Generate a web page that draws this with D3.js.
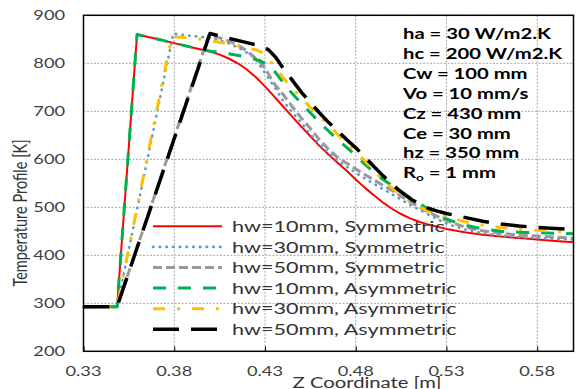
<!DOCTYPE html>
<html><head><meta charset="utf-8">
<script src="https://cdn.jsdelivr.net/npm/d3@7"></script>
<style>body{margin:0;background:#fff;} svg{display:block;}</style>
</head><body>
<svg id="c" width="576" height="389"></svg>
<script>
// ---------- data ----------
const xTicks = [0.33, 0.38, 0.43, 0.48, 0.53, 0.58];
const yTicks = [200, 300, 400, 500, 600, 700, 800, 900];

const zRed = [0.33,0.3485,0.3595,0.37,0.38,0.39,0.40,0.405,0.41,0.415,0.42,0.425,0.43,0.435,0.44,0.445,0.45,0.455,0.46,0.465,0.47,0.475,0.48,0.485,0.49,0.495,0.50,0.505,0.51,0.515,0.52,0.53,0.54,0.55,0.56,0.57,0.58,0.59,0.60];
const tRed = [293,293,860,851,842,833,824,818,810,800,787,771,752,731,710,689,668,648,628,610,593,576,558,541,525,510,497,486,477,470,464,455,448,443,439,436,433,430,427];

const zBlue = [0.33,0.3485,0.3795,0.387,0.395,0.402,0.409,0.416,0.422,0.425,0.43,0.435,0.44,0.445,0.45,0.455,0.46,0.465,0.47,0.48,0.49,0.50,0.51,0.52,0.53,0.54,0.55,0.56,0.57,0.58,0.59,0.60];
const tBlue = [293,293,862,858,855,851,843,831,818,808,780,752,722,698,676,652,632,613,597,572,549,527,505,485,466,454,446,441,438,436,434,433];

const zGray = [0.33,0.3485,0.399,0.405,0.41,0.415,0.42,0.425,0.43,0.435,0.44,0.445,0.45,0.455,0.46,0.465,0.47,0.48,0.49,0.50,0.51,0.52,0.53,0.54,0.55,0.56,0.57,0.58,0.59,0.60];
const tGray = [293,293,858,853,846,838,826,810,790,758,735,710,686,664,641,621,604,580,557,535,511,490,472,459,451,446,442,440,438,436];

const zGreen = [0.33,0.3485,0.3595,0.37,0.38,0.39,0.40,0.41,0.42,0.427,0.432,0.436,0.44,0.445,0.45,0.455,0.46,0.465,0.47,0.475,0.48,0.485,0.49,0.495,0.50,0.505,0.51,0.515,0.52,0.525,0.53,0.535,0.54,0.55,0.56,0.57,0.58,0.59,0.60];
const tGreen = [293,293,860,851,842,833,825,820,813,806,795,780,760,737,717,697,677,659,641,625,608,590,573,558,545,533,520,508,496,485,476,469,463,455,450,448,447,446,445];

const zOrange = [0.33,0.3485,0.3786,0.385,0.395,0.405,0.415,0.425,0.43,0.435,0.44,0.445,0.45,0.455,0.46,0.465,0.47,0.475,0.48,0.485,0.49,0.495,0.50,0.505,0.51,0.515,0.52,0.525,0.53,0.54,0.55,0.56,0.57,0.58,0.59,0.60];
const tOrange = [293,293,856,854,850,844,836,828,820,795,770,748,728,708,690,672,652,634,616,597,576,557,540,525,512,501,492,485,481,470,463,458,454,452,450,449];

const zBlack = [0.33,0.3485,0.3997,0.404,0.41,0.42,0.428,0.432,0.436,0.44,0.445,0.45,0.455,0.46,0.465,0.47,0.475,0.48,0.485,0.49,0.495,0.50,0.505,0.51,0.515,0.52,0.525,0.53,0.54,0.55,0.56,0.57,0.58,0.59,0.60];
const tBlack = [293,293,862,858,852,843,836,828,812,790,765,740,718,697,677,659,641,624,605,585,566,548,532,518,507,498,492,487,479,471,465,461,458,456,454];

const seriesNames = ["hw=10mm, Symmetric","hw=30mm, Symmetric","hw=50mm, Symmetric","hw=10mm, Asymmetric","hw=30mm, Asymmetric","hw=50mm, Asymmetric"];
const annotations = ["ha = 30 W/m2.K","hc = 200 W/m2.K","Cw = 100 mm","Vo = 10 mm/s","Cz = 430 mm","Ce = 30 mm","hz = 350 mm"];

// ---------- styles ----------
const styles = [
  {z:zRed,    t:tRed,    color:"#FF0000", w:2,   dash:null,          cap:"butt"},
  {z:zBlue,   t:tBlue,   color:"#5B9BD5", w:2.6, dash:"0.5 6.2",     cap:"round"},
  {z:zGray,   t:tGray,   color:"#999999", w:3,   dash:"9 4",         cap:"butt"},
  {z:zGreen,  t:tGreen,  color:"#00B050", w:3,   dash:"13 12",       cap:"butt"},
  {z:zOrange, t:tOrange, color:"#FFC000", w:3,   dash:"12 12 3 12",  cap:"butt"},
  {z:zBlack,  t:tBlack,  color:"#000000", w:3.5, dash:"26 12",       cap:"butt"}
];
const FONT = "Lato, 'Open Sans', sans-serif";
const S = 1.35; // horizontal stretch of text

const svg = d3.select("#c");
const L = 83.5, R = 573.5, T = 15.3, B = 351.3;
const x = d3.scaleLinear().domain([0.33, 0.60]).range([L, R]);
const y = d3.scaleLinear().domain([200, 900]).range([B, T]);

function stext(parent, px, py, str, o) {
  const g = parent.append("g").attr("transform", `translate(${px},${py}) scale(${S},1)` + (o.rot ? ` rotate(${o.rot})` : ""));
  const t = g.append("text")
    .attr("font-family", FONT)
    .attr("font-size", o.size)
    .attr("font-weight", o.weight || "normal")
    .attr("fill", o.fill || "#404040")
    .attr("text-anchor", o.anchor || "start")
    .attr("dy", o.dy || "0.35em");
  if (str !== null) t.text(str);
  return t;
}

// gridlines
const grid = svg.append("g");
grid.selectAll("line.h").data(yTicks.slice(1)).join("line")
  .attr("x1", L).attr("x2", R).attr("y1", d => y(d)).attr("y2", d => y(d))
  .attr("stroke", "#a6a6a6").attr("stroke-width", 1).attr("stroke-dasharray", "2 1.5");
grid.selectAll("line.v").data(xTicks.slice(1)).join("line")
  .attr("x1", d => x(d)).attr("x2", d => x(d)).attr("y1", T).attr("y2", B)
  .attr("stroke", "#a6a6a6").attr("stroke-width", 1).attr("stroke-dasharray", "2 1.5");

// axes (ticks inside at bottom)
const xAxis = d3.axisBottom(x).tickValues(xTicks).tickSize(-5).tickFormat("");
svg.append("g").attr("transform", `translate(0,${B})`).call(xAxis)
  .call(g => g.select(".domain").remove())
  .call(g => g.selectAll(".tick line").attr("stroke", "#000"));
const yAxis = d3.axisLeft(y).tickValues(yTicks).tickSize(0).tickFormat("");
svg.append("g").attr("transform", `translate(${L},0)`).call(yAxis)
  .call(g => g.select(".domain").remove());

// tick labels
xTicks.forEach(v => stext(svg, x(v), 371, d3.format(".2f")(v), {size: 13.5, anchor: "middle"}));
yTicks.forEach(v => stext(svg, 65, y(v), String(v), {size: 13.5, anchor: "end"}));

// lines
const line = d3.line().x(d => x(d[0])).y(d => y(d[1]));
const plot = svg.append("g");
styles.forEach(s => {
  const pts = s.z.map((z, i) => [z, s.t[i]]);
  plot.append("path").datum(pts).attr("d", line)
    .attr("fill", "none").attr("stroke", s.color).attr("stroke-width", s.w)
    .attr("stroke-dasharray", s.dash).attr("stroke-linecap", s.cap).attr("stroke-linejoin", "round");
});

// frame
svg.append("rect").attr("x", L).attr("y", T).attr("width", R - L).attr("height", B - T)
  .attr("fill", "none").attr("stroke", "#000").attr("stroke-width", 1.5);

// legend
const legY0 = 226.3, legDy = 20.6;
seriesNames.forEach((name, i) => {
  const s = styles[i];
  const yy = legY0 + i * legDy;
  svg.append("line").attr("x1", 153).attr("x2", 222).attr("y1", yy).attr("y2", yy)
    .attr("stroke", s.color).attr("stroke-width", s.w).attr("stroke-dasharray", s.dash).attr("stroke-linecap", s.cap);
  stext(svg, 232, yy, name, {size: 16, fill: "#333"});
});

// annotations
const annY0 = 33.5, annDy = 19.95;
annotations.forEach((a, i) => stext(svg, 403, annY0 + i * annDy, a, {size: 15, weight: "bold", fill: "#000"}));
const ro = stext(svg, 403, annY0 + 7 * annDy, null, {size: 15, weight: "bold", fill: "#000"});
ro.append("tspan").text("R");
ro.append("tspan").attr("font-size", 10).attr("dy", "3").text("o");
ro.append("tspan").attr("dy", "-3").text(" = 1 mm");

// axis titles
stext(svg, 367, 383, "Z Coordinate [m]", {size: 15, anchor: "middle", fill: "#333"});
stext(svg, 20, 213, "Temperature Profile [K]", {size: 14.5, anchor: "middle", fill: "#333", rot: -90});
</script>
</body></html>
